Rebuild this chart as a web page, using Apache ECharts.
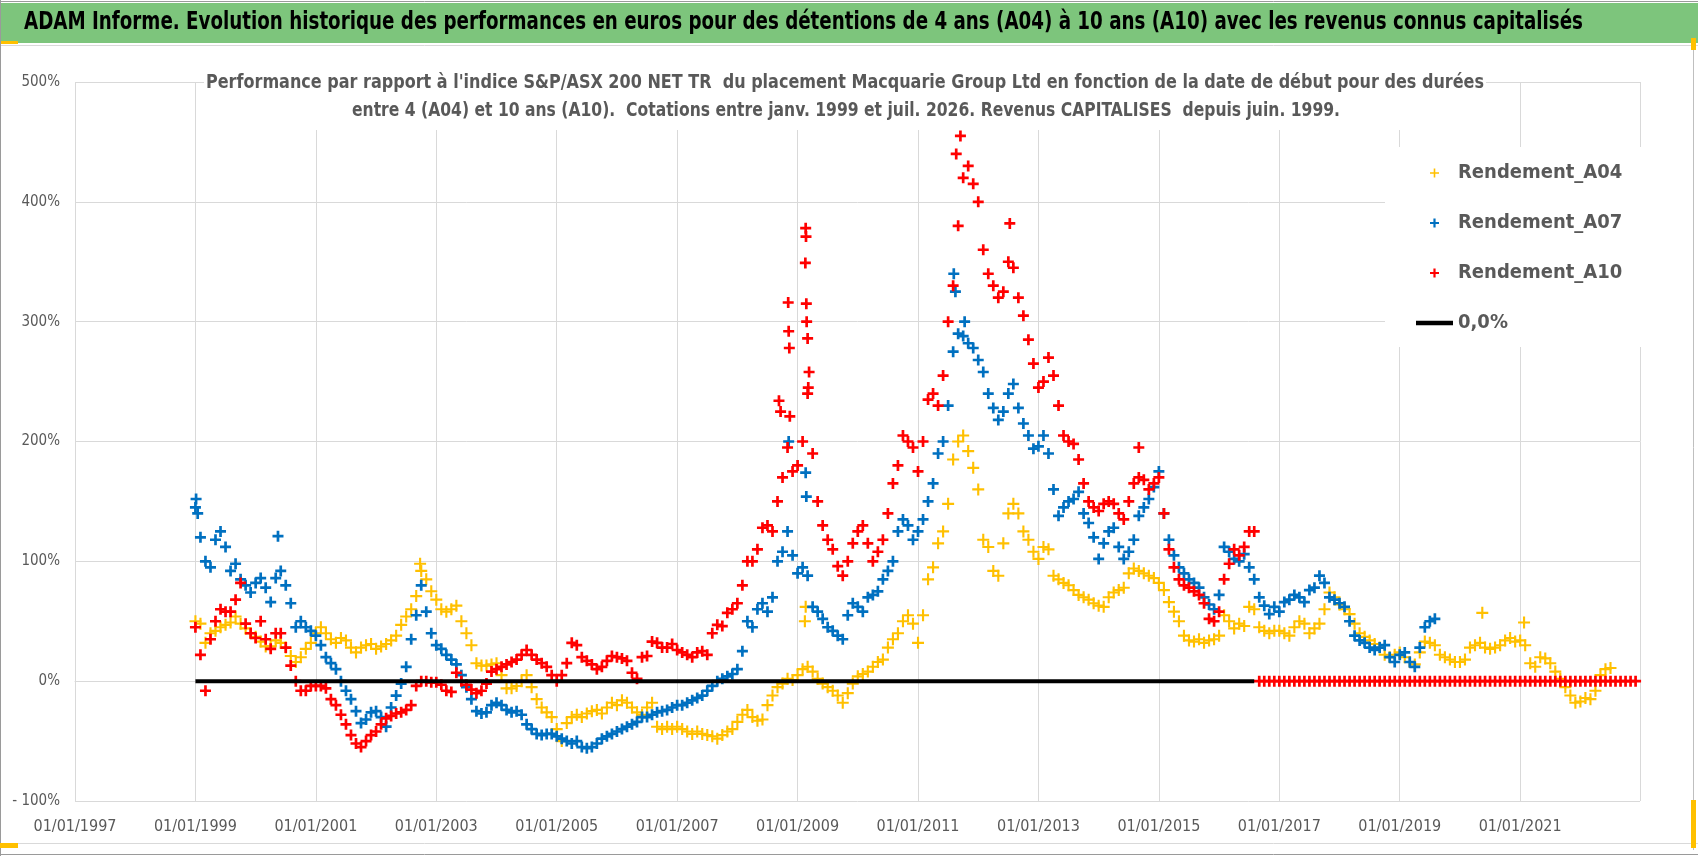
<!DOCTYPE html>
<html>
<head>
<meta charset="utf-8">
<script src="https://cdn.jsdelivr.net/npm/echarts@6/dist/echarts.min.js"></script>
<style>
  html, body { margin: 0; padding: 0; background: #fff; }
  #container { width: 1698px; height: 856px; }
</style>
</head>
<body>
<div id="container"></div>
<script>
// monthly readings, first value = January 1999
var START_YEAR = 1999;

var A04 = [
  50, 48, 32, 40, 42, 45, 47, 49, 54, 48, 44, 40,
  37, 33, 29, 29, 34, 32, 28, 21, 16, 20, 27, 32,
  40, 45, 40, 35, 32, 36, 34, 28, 24, 28, 30, 31,
  27, 29, 31, 34, 38, 47, 54, 60, 71, 92, 85, 75,
  68, 60, 58, 60, 63, 50, 40, 30, 15, 13, 13, 14,
  15, 5, -6, -6, -4, 0, 5, -5, -15, -22, -26, -30,
  -40, -50, -35, -30, -28, -30, -27, -25, -24, -27, -22, -18,
  -20, -16, -18, -22, -26, -28, -22, -18, -38, -40, -38, -40,
  -38, -40, -42, -44, -42, -44, -45, -46, -48, -45, -42, -40,
  -34, -28, -24, -30, -33, -32, -20, -12, -5, -2, 2, 1,
  5, 10, 12, 8, 2, -2, -5, -8, -12, -18, -10, -2,
  4, 6, 8, 12, 16, 18, 28, 35, 40, 50, 55, 48,
  32, 55, 85, 95, 115, 125, 148, 185, 200, 205, 192, 178,
  160, 118, 112, 92, 88, 115, 140, 148, 140, 125, 118, 108,
  102, 112, 110, 88, 85, 82, 80, 76, 72, 70, 68, 65,
  63, 62, 70, 74, 76, 78, 90, 94, 92, 90, 88, 86,
  82, 76, 66, 58, 50, 38, 34, 33, 35, 32, 34, 35,
  38, 55, 50, 44, 48, 46, 62, 60, 45, 42, 40, 42,
  42, 40, 38, 45, 50, 48, 40, 44, 48, 60, 74, 70,
  64, 60, 56, 48, 40, 37, 34, 31, 28, 22, 20, 22,
  24, 20, 16, 14, 24, 33, 32, 30, 22, 20, 18, 16,
  16, 18, 28, 30, 32, 28, 27, 28, 30, 34, 36, 33,
  34, 30, 15, 12, 20, 19, 15, 8, 2, -5, -12, -18,
  -17, -14, -15, -8, 5, 10, 11
];

var A07 = [
  145, 120, 100, 95, 118, 125, 112, 92, 98, 85, 80, 74,
  82, 86, 78, 66, 86, 92, 80, 65, 45, 50, 45, 42,
  38, 30, 20, 15, 10, 0, -8, -15, -25, -35, -32, -26,
  -25, -30, -38, -22, -12, -2, 12, 35, 55, 80, 58, 40,
  30, 27, 22, 18, 14, 5, -5, -15, -25, -27, -26, -20,
  -18, -20, -24, -26, -25, -28, -36, -40, -44, -45, -44, -44,
  -46, -48, -50, -52, -50, -55, -56, -55, -52, -48, -46, -44,
  -42, -40, -38, -36, -34, -30, -30, -28, -26, -25, -24, -22,
  -20, -20, -18, -16, -14, -12, -8, -4, 0, 2, 4, 6,
  10, 25, 50, 45, 60, 65, 58, 70, 100, 108, 125, 105,
  90, 95, 88, 62, 58, 52, 45, 42, 38, 35, 55, 65,
  62, 58, 70, 72, 75, 85, 92, 100, 125, 135, 130, 118,
  125, 135, 150, 165, 190, 200, 230, 275, 290, 288, 282, 278,
  268, 258, 240, 228, 218, 225, 240, 248, 228, 215, 205, 194,
  196, 205, 190, 160, 138, 145, 150, 152, 158, 140, 132, 120,
  102, 115, 125, 128, 112, 102, 108, 118, 138, 145, 152, 162,
  175, 140, 118, 105, 95, 90, 85, 82, 78, 70, 64, 60,
  72, 112, 108, 102, 100, 106, 95, 85, 70, 63, 56, 62,
  58, 66, 68, 72, 70, 66, 76, 78, 88, 82, 70, 68,
  65, 62, 50, 38, 34, 32, 28, 26, 28, 30, 20, 16,
  22, 24, 16, 12, 28, 45, 50, 52
];

var A10 = [
  45, 22, -8, 35, 50, 60, 58, 58, 68, 82, 48, 40,
  36, 50, 35, 27, 40, 40, 28, 13, 0, -8, -8, -4,
  -4, -4, -6, -15, -20, -28, -36, -45, -52, -55, -50, -45,
  -42, -36, -31, -29, -27, -26, -24, -20, -4, 0, 0, -1,
  -1, -3, -8, -9, 7, 0, -3, -7, -10, -8, -2, 8,
  10, 12, 14, 16, 18, 22, 26, 22, 18, 15, 12, 5,
  0, 5, 15, 32, 30, 20, 17, 14, 10, 12, 17, 21,
  20, 19, 17, 7, 2, 20, 21, 33, 32, 28, 28, 31,
  26, 24, 22, 20, 24, 25, 22, 40, 47, 46, 57, 60,
  65, 80, 100, 100, 110, 128, 130, 125, 150, 170, 195, 175,
  180, 200, 240, 190, 150, 130, 118, 110, 96, 88, 100, 115,
  125, 130, 115, 100, 108, 118, 140, 165, 180, 205, 200, 195,
  175, 200, 235, 240, 230, 255, 300, 330, 380, 420, 430, 415,
  400, 360, 340, 330, 320, 325, 350, 345, 320, 305, 285, 265,
  245, 250, 270, 255, 230, 205, 200, 198, 185, 165, 150, 145,
  142, 148, 150, 148, 140, 135, 150, 165, 170, 168, 160, 165,
  170, 140, 110, 95, 85, 80, 78, 75, 72, 65, 52, 50,
  58, 85, 98, 110, 105, 112, 125, 125, 0, 0, 0, 0,
  0, 0, 0, 0, 0, 0, 0, 0, 0, 0, 0, 0,
  0, 0, 0, 0, 0, 0, 0, 0, 0, 0, 0, 0,
  0, 0, 0, 0, 0, 0, 0, 0, 0, 0, 0, 0,
  0, 0, 0, 0, 0, 0, 0, 0, 0, 0, 0, 0,
  0, 0, 0, 0, 0, 0, 0, 0, 0, 0, 0, 0,
  0, 0, 0, 0, 0, 0, 0, 0, 0, 0, 0, 0
];

// isolated points that stand out of the bands
var A04_SPIKES = [['2002-09-25', 98], ['2009-02-15', 50], ['2009-02-20', 62], ['2020-05-15', 57], ['2021-01-25', 49]];
var A07_SPIKES = [['1999-01-05', 152], ['1999-01-15', 140], ['2000-05-15', 121], ['2008-11-08', 200],
  ['2009-02-20', 174], ['2009-02-24', 154], ['2011-08-05', 340], ['2011-08-15', 325], ['2011-10-10', 300]];
var A10_SPIKES = [['2008-09-10', 234], ['2008-09-20', 225], ['2008-11-05', 316], ['2008-11-08', 292],
  ['2008-11-12', 278], ['2008-11-15', 221], ['2009-02-18', 349], ['2009-02-20', 378], ['2009-02-22', 371],
  ['2009-02-24', 315], ['2009-02-26', 300], ['2009-03-01', 286], ['2009-03-05', 245], ['2009-03-10', 258],
  ['2011-08-20', 440], ['2011-09-15', 455], ['2012-07-10', 382], ['2014-09-01', 195]];

var ZERO_DATES = ['1999-01-01', '2016-08-01'];
var ZERO_VALUES = [0, 0];

var X_TICKS = [1997, 1999, 2001, 2003, 2005, 2007, 2009, 2011, 2013, 2015, 2017, 2019, 2021];
var Y_TICKS = [-100, 0, 100, 200, 300, 400, 500];

var TITLE = 'ADAM Informe. Evolution historique des performances en euros pour des détentions de 4 ans (A04) à 10 ans (A10) avec les revenus connus capitalisés';
var SUBTITLE = [
  "Performance par rapport à l'indice S&P/ASX 200 NET TR  du placement Macquarie Group Ltd en fonction de la date de début pour des durées",
  "entre 4 (A04) et 10 ans (A10).  Cotations entre janv. 1999 et juil. 2026. Revenus CAPITALISES  depuis juin. 1999."
];

var FONT = "'DejaVu Sans Condensed', 'Noto Sans', sans-serif";
var PLUS = 'path://M3.4,0h2.2v3.4h3.4v2.2h-3.4v3.4h-2.2v-3.4h-3.4v-2.2h3.4z';
var PLUS_THIN = 'path://M3.7,0h1.6v3.7h3.7v1.6h-3.7v3.7h-1.6v-3.7h-3.7v-1.6h3.7z';

function dateToYear(s) {
  var p = s.split('-');
  var y = +p[0], m = +p[1] - 1, d = +p[2] - 1;
  return y + (m + d / 31) / 12;
}

function toPoints(values, spikes) {
  var pts = values.map(function (v, k) { return [START_YEAR + k / 12, v]; });
  spikes.forEach(function (s) { pts.push([dateToYear(s[0]), s[1]]); });
  return pts;
}

// horizontal squeeze so a wide fallback font keeps the narrow look of the original
var ctx = document.createElement('canvas').getContext('2d');
function squeeze(text, font, width) {
  ctx.font = font;
  return Math.min(1, width / ctx.measureText(text).width);
}

function condensedText(text, cx, cy, size, color, width, align) {
  var font = 'bold ' + size + 'px ' + FONT;
  return {
    type: 'text', x: cx, y: cy, z: 20,
    scaleX: squeeze(text, font, width),
    style: { text: text, font: font, fill: color, align: align, verticalAlign: 'middle' }
  };
}

var dom = document.getElementById('container');
var myChart = echarts.init(dom, null, { renderer: 'canvas' });

var option = {
  animation: false,
  graphic: [
    { type: 'rect', shape: { x: 0, y: 3, width: 1698, height: 40 }, style: { fill: '#7dc57c' }, z: -10 },
    { type: 'rect', shape: { x: 0, y: 41, width: 18, height: 3 }, style: { fill: '#ffc000' }, z: -9 },
    { type: 'line', shape: { x1: 0, y1: 45.5, x2: 1698, y2: 45.5 }, style: { stroke: '#d9d9d9', lineWidth: 1 }, z: -9 },
    { type: 'line', shape: { x1: 0, y1: 1.5, x2: 1698, y2: 1.5 }, style: { stroke: '#9a9a9a', lineWidth: 1 }, z: -9 },
    { type: 'line', shape: { x1: 0.5, y1: 0, x2: 0.5, y2: 856 }, style: { stroke: '#9a9a9a', lineWidth: 1 }, z: -9 },
    { type: 'line', shape: { x1: 0, y1: 843.5, x2: 1698, y2: 843.5 }, style: { stroke: '#d9d9d9', lineWidth: 1 }, z: -9 },
    { type: 'line', shape: { x1: 0, y1: 854.5, x2: 1698, y2: 854.5 }, style: { stroke: '#9a9a9a', lineWidth: 1 }, z: -9 },
    { type: 'line', shape: { x1: 1693.5, y1: 45, x2: 1693.5, y2: 850 }, style: { stroke: '#bfbfbf', lineWidth: 1 }, z: -9 },
    { type: 'rect', shape: { x: 1691, y: 38, width: 5, height: 12 }, style: { fill: '#ffc000' }, z: -8 },
    { type: 'rect', shape: { x: 1691, y: 800, width: 5, height: 48 }, style: { fill: '#ffc000' }, z: -8 },
    { type: 'rect', shape: { x: 0, y: 843, width: 18, height: 5 }, style: { fill: '#ffc000' }, z: -8 },
    // white box behind the chart subtitle
    { type: 'rect', shape: { x: 204, y: 68, width: 1282, height: 62 }, style: { fill: '#ffffff' }, z: 1 },
    condensedText(TITLE, 24, 23, 24, '#000000', 1559, 'left'),
    condensedText(SUBTITLE[0], 845, 83, 19, '#595959', 1278, 'center'),
    condensedText(SUBTITLE[1], 846, 111, 19, '#595959', 988, 'center')
  ],
  legend: {
    orient: 'vertical',
    left: 1385,
    top: 147,
    padding: [14, 40, 12, 31],
    backgroundColor: '#ffffff',
    itemWidth: 37,
    itemHeight: 9,
    itemGap: 26,
    textStyle: { fontFamily: FONT, fontSize: 20, fontWeight: 'bold', color: '#595959', lineHeight: 24 },
    data: [
      'Rendement_A04',
      'Rendement_A07',
      'Rendement_A10',
      { name: '0,0%', icon: 'path://M0,0h37v4.5h-37z', itemStyle: { color: '#000000' } }
    ]
  },
  grid: { left: 75, right: 58, top: 82, bottom: 55 },
  xAxis: {
    type: 'value',
    min: X_TICKS[0],
    max: 2022.99,
    interval: 2,
    axisLine: { show: true, lineStyle: { color: '#d9d9d9', width: 1 } },
    axisTick: { show: false },
    splitLine: { show: true, lineStyle: { color: '#d9d9d9', width: 1 } },
    axisLabel: {
      margin: 18,
      fontFamily: FONT, fontSize: 16, color: '#595959',
      formatter: function (v) { return X_TICKS.indexOf(v) >= 0 ? '01/01/' + v : ''; }
    }
  },
  yAxis: {
    type: 'value',
    min: Y_TICKS[0],
    max: Y_TICKS[Y_TICKS.length - 1],
    interval: 100,
    axisLine: { show: false },
    axisTick: { show: false },
    splitLine: { show: true, lineStyle: { color: '#d9d9d9', width: 1 } },
    axisLabel: {
      margin: 15,
      fontFamily: FONT, fontSize: 15, color: '#595959',
      formatter: function (v) { return v < 0 ? '- ' + Math.abs(v) + '%' : v + '%'; }
    }
  },
  series: [{
    name: 'Rendement_A04',
    type: 'scatter',
    symbol: PLUS_THIN,
    symbolSize: 12,
    itemStyle: { color: '#ffc000', opacity: 1 },
    z: 2,
    data: toPoints(A04, A04_SPIKES)
  }, {
    name: 'Rendement_A07',
    type: 'scatter',
    symbol: PLUS,
    symbolSize: 11,
    itemStyle: { color: '#0070c0', opacity: 1 },
    z: 3,
    data: toPoints(A07, A07_SPIKES)
  }, {
    name: 'Rendement_A10',
    type: 'scatter',
    symbol: PLUS,
    symbolSize: 11,
    itemStyle: { color: '#ff0000', opacity: 1 },
    z: 4,
    data: toPoints(A10, A10_SPIKES)
  }, {
    name: '0,0%',
    type: 'line',
    symbol: 'none',
    lineStyle: { color: '#000000', width: 4 },
    itemStyle: { color: '#000000' },
    z: 5,
    data: ZERO_DATES.map(function (d, i) { return [dateToYear(d), ZERO_VALUES[i]]; })
  }]
};

if (option && typeof option === 'object') {
  myChart.setOption(option);
}

window.addEventListener('resize', myChart.resize);
</script>
</body>
</html>
